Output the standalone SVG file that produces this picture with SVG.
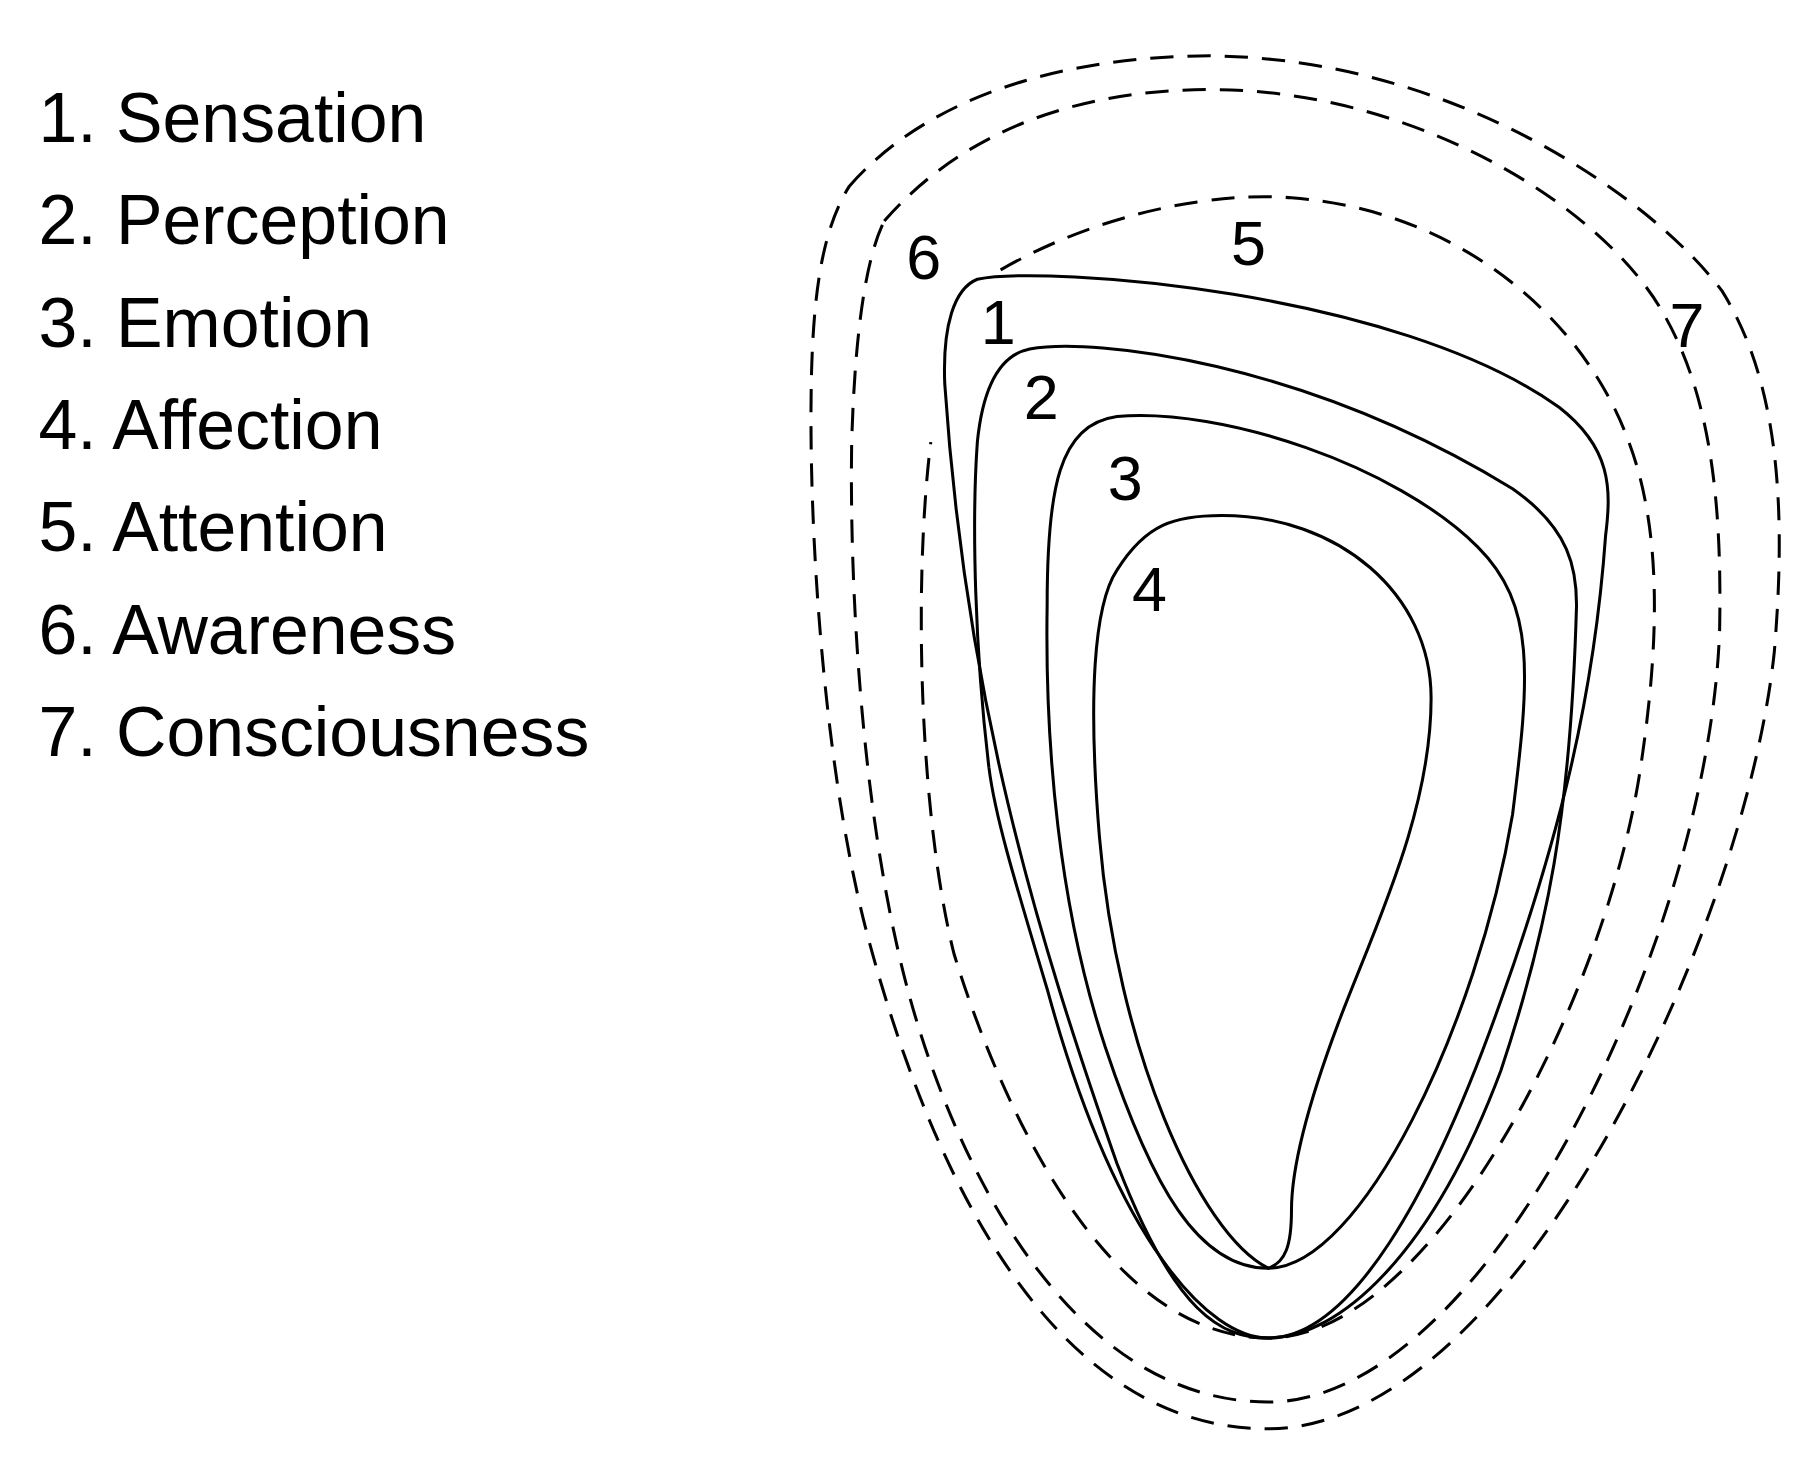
<svg xmlns="http://www.w3.org/2000/svg" width="1815" height="1467" viewBox="0 0 1815 1467">
<style>
.t{font-family:"Liberation Sans",Arial,sans-serif;fill:#000}
.leg{font-size:60px}
.num{font-size:54px}
.s{fill:none;stroke:#000;stroke-width:2.6}
.d{fill:none;stroke:#000;stroke-width:2.6;stroke-dasharray:20 12}
</style>
<rect width="1815" height="1467" fill="#fff"/>
<g transform="scale(1.1635)">
<g id="legend" class="t leg">
<text x="33" y="122">1. Sensation</text>
<text x="33" y="210">2. Perception</text>
<text x="33" y="298">3. Emotion</text>
<text x="33" y="386">4. Affection</text>
<text x="33" y="474">5. Attention</text>
<text x="33" y="562">6. Awareness</text>
<text x="33" y="650">7. Consciousness</text>
</g>
<g id="c7"><path class="d" d="M730,160 C800,80 920,48 1040,48 C1250,50 1420,170 1480,250 C1530,330 1535,440 1525,560 C1500,800 1300,1228 1090,1228 C900,1228 800,1000 750,820 C710,680 697,480 697,360 C697,260 705,200 730,160"/></g>
<g id="c6"><path class="d" d="M760,190 C830,110 930,77 1040,77 C1220,77 1380,180 1430,270 C1470,340 1480,430 1478,540 C1470,800 1280,1205 1090,1205 C920,1205 820,1000 780,850 C740,700 730,500 732,380 C735,280 745,220 760,190"/></g>
<g id="c5"><path class="d" d="M860,232 C950,180 1050,165 1110,170 C1250,180 1360,270 1400,380 C1430,460 1425,560 1410,660 C1380,860 1230,1150 1090,1150 C950,1150 860,950 820,820 C790,700 785,500 800,380"/></g>
<g id="c1"><path class="s" d="M840,240 C900,228 1200,250 1340,350 C1385,385 1385,420 1380,460 C1370,600 1340,720 1290,860 C1230,1030 1160,1150 1090,1150 C1050,1150 1010,1130 960,1000 C890,800 830,600 812,330 C810,280 820,248 840,240 Z"/></g>
<g id="c2"><path class="s" d="M850,660 C838,560 835,450 840,380 C845,330 860,305 885,300 C940,290 1120,310 1300,420 C1350,455 1355,490 1355,520 C1350,700 1330,800 1290,920 C1230,1080 1150,1150 1090,1150 C1040,1150 960,1070 900,850 C870,750 855,700 850,660"/></g>
<g id="c3"><path class="s" d="M900,520 C900,420 910,365 960,358 C1050,350 1200,400 1270,470 C1320,520 1315,580 1300,700 C1270,880 1170,1090 1090,1090 C1030,1090 990,1020 950,900 C910,780 898,640 900,520 Z"/></g>
<g id="c4"><path class="s" d="M1090,1090 C1030,1060 960,900 945,720 C935,600 940,520 960,490 C985,450 1010,443 1050,443 C1150,443 1230,510 1230,600 C1230,700 1180,800 1150,880 C1120,960 1110,1010 1110,1040 C1110,1070 1105,1085 1090,1090 Z"/></g>
<g id="labels" class="t num" text-anchor="middle">
<text x="858" y="296">1</text>
<text x="895" y="360">2</text>
<text x="967" y="430">3</text>
<text x="988" y="525">4</text>
<text x="1073" y="228">5</text>
<text x="794" y="240">6</text>
<text x="1450" y="298">7</text>
</g>
</g>
</svg>
